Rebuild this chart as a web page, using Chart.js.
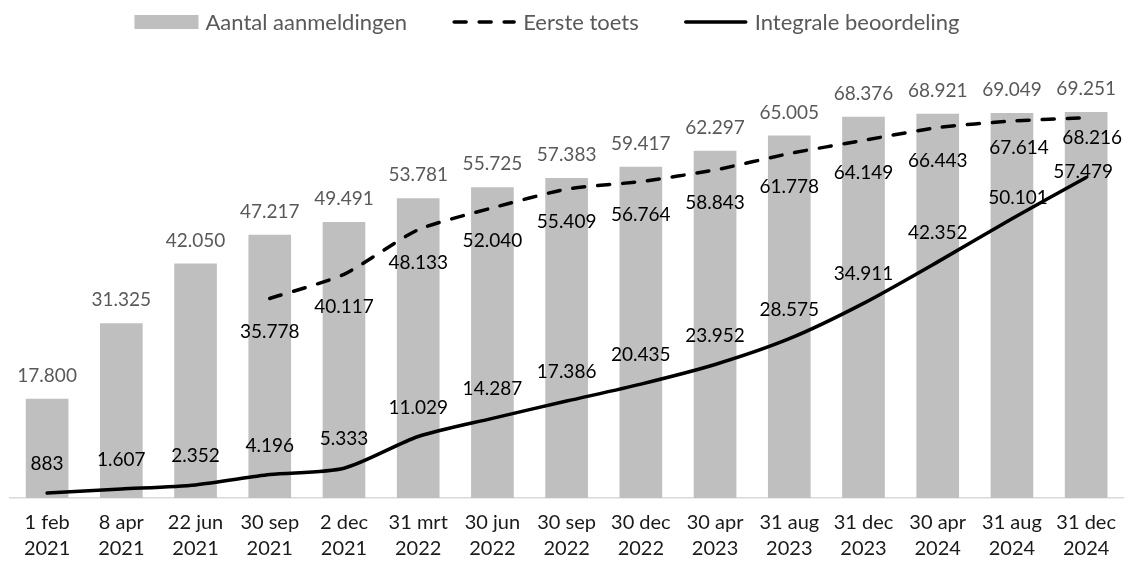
<!DOCTYPE html>
<html>
<head>
<meta charset="utf-8">
<script src="https://cdn.jsdelivr.net/npm/chart.js@4/dist/chart.umd.min.js"></script>
<style>
  html, body { margin: 0; padding: 0; background: #fff; }
  #wrap { width: 1128px; height: 561px; }
</style>
</head>
<body>
<div id="wrap"><canvas id="chart"></canvas></div>
<script>
// data
const categories = [
  ['1 feb', '2021'], ['8 apr', '2021'], ['22 jun', '2021'], ['30 sep', '2021'], ['2 dec', '2021'],
  ['31 mrt', '2022'], ['30 jun', '2022'], ['30 sep', '2022'], ['30 dec', '2022'],
  ['30 apr', '2023'], ['31 aug', '2023'], ['31 dec', '2023'],
  ['30 apr', '2024'], ['31 aug', '2024'], ['31 dec', '2024'],
];
const aanmeldingen = [17800, 31325, 42050, 47217, 49491, 53781, 55725, 57383, 59417, 62297, 65005, 68376, 68921, 69049, 69251];
const eersteToets = [null, null, null, 35778, 40117, 48133, 52040, 55409, 56764, 58843, 61778, 64149, 66443, 67614, 68216];
const integrale = [883, 1607, 2352, 4196, 5333, 11029, 14287, 17386, 20435, 23952, 28575, 34911, 42352, 50101, 57479];

const FONT = "Lato, 'Open Sans', sans-serif";
const COLORS = {
  bar: '#bfbfbf',
  barLabel: '#595959',
  line: '#000000',
  lineLabel: '#000000',
  legend: '#595959',
  axis: '#1a1a1a',
  axisLine: '#d9d9d9',
};

function fmt(v) {
  return String(v).replace(/\B(?=(\d{3})+(?!\d))/g, '.');
}

// value labels, drawn after the datasets (no datalabels plugin available offline)
// dy: label centre relative to the point; nudge = per-index tweaks as in the original
const labelStyle = [
  { color: COLORS.barLabel, dy: -23, nudge: {} },
  { color: COLORS.lineLabel, dy: 33, nudge: { 13: [7, -6], 14: [6, -13] } },
  { color: COLORS.lineLabel, dy: -29, nudge: { 13: [6, 8], 14: [-3, 23] } },
];

const valueLabels = {
  id: 'valueLabels',
  afterDatasetsDraw(chart) {
    const ctx = chart.ctx;
    ctx.save();
    ctx.font = '19px ' + FONT;
    ctx.textAlign = 'center';
    ctx.textBaseline = 'middle';
    chart.data.datasets.forEach((ds, di) => {
      const meta = chart.getDatasetMeta(di);
      const st = labelStyle[di];
      ctx.fillStyle = st.color;
      meta.data.forEach((el, i) => {
        const v = ds.data[i];
        if (v === null || v === undefined) return;
        const n = st.nudge[i] || [0, 0];
        ctx.fillText(fmt(v), el.x + n[0], el.y + st.dy + n[1]);
      });
    });
    ctx.restore();
  },
};

// legend drawn by hand to match the spacing of the original
const topLegend = {
  id: 'topLegend',
  afterDraw(chart, args, opts) {
    const ctx = chart.ctx;
    ctx.save();
    ctx.font = opts.fontSize + 'px ' + FONT;
    ctx.textBaseline = 'middle';
    const items = chart.data.datasets.map(ds => ({
      text: ds.label,
      w: opts.box + opts.gap + ctx.measureText(ds.label).width,
      ds,
    }));
    const total = items.reduce((s, it) => s + it.w, 0) + opts.spacing * (items.length - 1);
    let x = opts.centerX - total / 2;
    const y = opts.y;
    items.forEach(it => {
      const ds = it.ds;
      if (ds.type === 'line') {
        ctx.beginPath();
        ctx.strokeStyle = ds.borderColor;
        ctx.lineWidth = ds.borderWidth;
        ctx.lineCap = 'round';
        ctx.setLineDash(ds.borderDash || []);
        ctx.moveTo(x + 2, y);
        ctx.lineTo(x + opts.box - 2, y);
        ctx.stroke();
        ctx.setLineDash([]);
      } else {
        ctx.fillStyle = ds.backgroundColor;
        ctx.fillRect(x, y - 7, opts.box, 14);
      }
      ctx.fillStyle = COLORS.legend;
      ctx.fillText(it.text, x + opts.box + opts.gap, y + 1);
      x += it.w + opts.spacing;
    });
    ctx.restore();
  },
};

new Chart(document.getElementById('chart'), {
  type: 'bar',
  data: {
    labels: categories,
    datasets: [
      {
        type: 'bar',
        label: 'Aantal aanmeldingen',
        data: aanmeldingen,
        backgroundColor: COLORS.bar,
        categoryPercentage: 1,
        barPercentage: 0.575,
        order: 3,
      },
      {
        type: 'line',
        label: 'Eerste toets',
        data: eersteToets,
        borderColor: COLORS.line,
        borderWidth: 3.5,
        borderDash: [12, 13],
        borderCapStyle: 'round',
        tension: 0.2,
        pointRadius: 0,
        fill: false,
        order: 1,
      },
      {
        type: 'line',
        label: 'Integrale beoordeling',
        data: integrale,
        borderColor: COLORS.line,
        borderWidth: 3.5,
        borderCapStyle: 'round',
        tension: 0.25,
        pointRadius: 0,
        fill: false,
        order: 2,
      },
    ],
  },
  options: {
    responsive: true,
    maintainAspectRatio: false,
    animation: false,
    layout: { padding: { top: 52, left: 10, right: 1, bottom: -13 } },
    plugins: {
      legend: { display: false },
      tooltip: { enabled: false },
      topLegend: { centerX: 547, y: 22, box: 64, gap: 7, spacing: 45, fontSize: 22 },
    },
    scales: {
      x: {
        offset: true,
        grid: { display: false, drawTicks: false },
        border: { display: true, color: COLORS.axisLine, width: 1.5 },
        ticks: {
          color: COLORS.axis,
          padding: 12,
          maxRotation: 0,
          autoSkip: false,
          font: { family: FONT, size: 20, lineHeight: 1.3 },
        },
      },
      y: {
        display: false,
        min: 0,
        max: 80000,
      },
    },
  },
  plugins: [valueLabels, topLegend],
});
</script>
</body>
</html>
